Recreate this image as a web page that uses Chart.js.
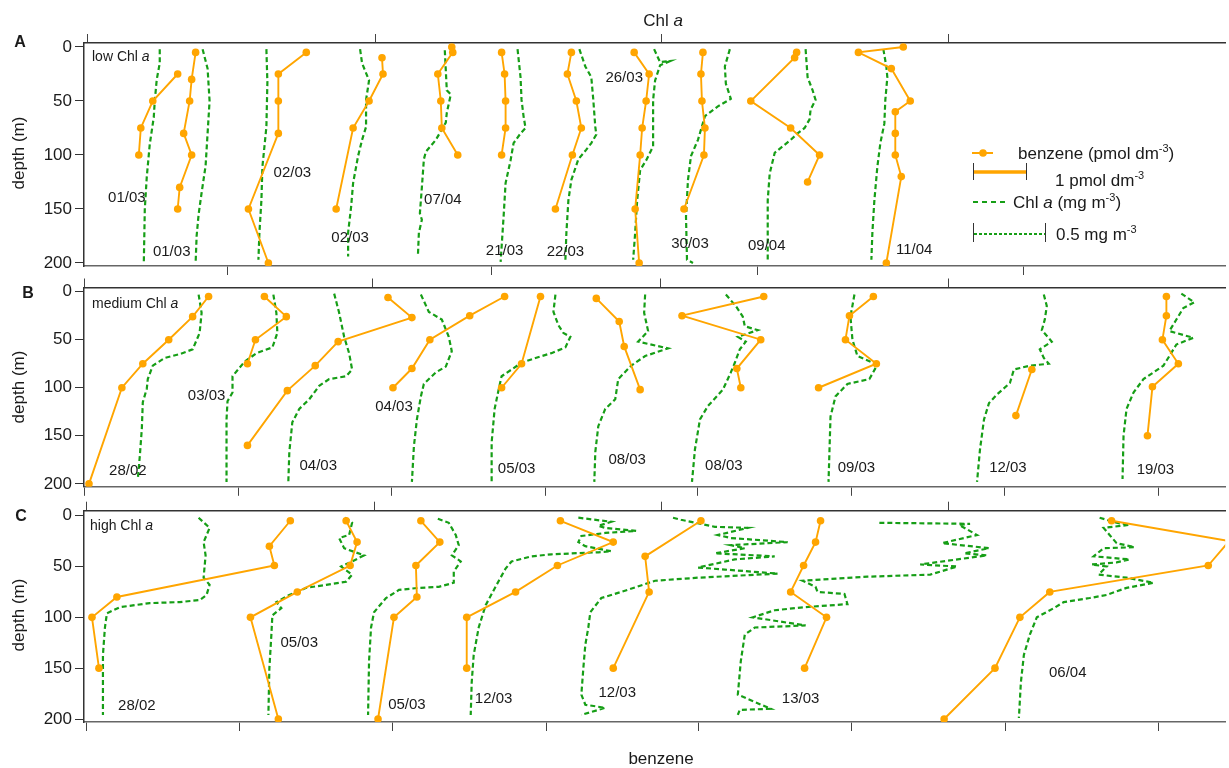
<!DOCTYPE html>
<html><head><meta charset="utf-8">
<script src="https://cdn.jsdelivr.net/npm/chart.js@4"></script>
<style>
body{margin:0;background:#fff;width:1229px;height:768px;overflow:hidden;position:relative;font-family:"Liberation Sans",Arial,sans-serif;color:#1a1a1a;}
canvas{position:absolute;left:0;}
.t{position:absolute;white-space:nowrap;line-height:1;}
.c{transform:translate(-50%,-50%);}
.l{transform:translate(0,-50%);}
.r{transform:translate(-50%,-50%) rotate(-90deg);}
sup{font-size:11px;vertical-align:7px;line-height:0;}
</style></head><body>
<canvas id="cA" width="1229" height="290" style="top:0"></canvas>
<canvas id="cB" width="1229" height="230" style="top:270px"></canvas>
<canvas id="cC" width="1229" height="273" style="top:495px"></canvas>

<div class="t c" style="left:663px;top:20px;font-size:17px">Chl <i>a</i></div>
<div class="t c" style="left:661px;top:758px;font-size:17px">benzene</div>
<div class="t c" style="left:20px;top:42px;font-size:16px;font-weight:bold">A</div>
<div class="t c" style="left:28px;top:293px;font-size:16px;font-weight:bold">B</div>
<div class="t c" style="left:21px;top:516px;font-size:16px;font-weight:bold">C</div>
<div class="t r" style="left:18px;top:153px;font-size:17px">depth (m)</div>
<div class="t r" style="left:18px;top:387px;font-size:17px">depth (m)</div>
<div class="t r" style="left:18px;top:615px;font-size:17px">depth (m)</div>
<div class="t l" style="left:92px;top:56px;font-size:14px">low Chl <i>a</i></div>
<div class="t l" style="left:92px;top:303px;font-size:14px">medium Chl <i>a</i></div>
<div class="t l" style="left:90px;top:525px;font-size:14px">high Chl <i>a</i></div>
<div class="t l" style="left:1018px;top:153px;font-size:17px">benzene (pmol dm<sup>-3</sup>)</div>
<div class="t l" style="left:1055px;top:180px;font-size:17px">1 pmol dm<sup>-3</sup></div>
<div class="t l" style="left:1013px;top:202px;font-size:17px">Chl <i>a</i> (mg m<sup>-3</sup>)</div>
<div class="t l" style="left:1056px;top:234px;font-size:17px">0.5 mg m<sup>-3</sup></div>

<script>
// horizontal unit: offset position (same units for all panels)
const xMin = 84, xMax = 1229;
const depthTicks = [0, 50, 100, 150, 200];

// ---- Panel A (low Chl a) : profiles as [depth, x] ----
const A_benzene = [
 [[25,178],[50,153],[75,141],[100,139]],
 [[5,196],[30,192],[50,190],[80,184],[100,192],[130,180],[150,178]],
 [[5,307],[25,279],[50,279],[80,279],[150,249],[200,269]],
 [[10,383],[25,384],[50,370],[75,354],[150,337]],
 [[0,453],[5,454],[25,439],[50,442],[75,443],[100,459]],
 [[5,503],[25,506],[50,507],[75,507],[100,503]],
 [[5,573],[25,569],[50,578],[75,583],[100,574],[150,557]],
 [[5,636],[25,651],[50,648],[75,644],[100,642],[150,637],[200,641]],
 [[5,705],[25,703],[50,704],[75,707],[100,706],[150,686]],
 [[5,799],[10,797],[50,753],[75,793],[100,822],[125,810]],
 [[0,906],[5,861],[20,894],[50,913],[60,898],[80,898],[100,898],[120,904],[200,889]]
];
const A_chl = [
 [[2,160],[15,160],[30,157],[50,155],[65,154],[90,150],[120,147],[150,145],[200,144]],
 [[2,203],[20,208],[50,210],[80,208],[110,206],[135,202],[155,199],[175,197],[200,196]],
 [[2,267],[33,268],[74,267],[111,263],[142,262],[172,260],[197,259]],
 [[2,361],[15,363],[31,370],[49,367],[74,367],[86,363],[101,359],[126,354],[148,352],[172,349],[194,349]],
 [[3,446],[40,448],[44,452],[61,448],[70,447],[86,437],[97,427],[104,425],[130,423],[154,421],[160,423],[172,420],[194,419]],
 [[2,519],[28,522],[49,523],[64,525],[75,527],[80,522],[89,515],[105,512],[126,507],[157,505],[185,503],[199,502]],
 [[2,581],[18,587],[28,593],[49,595],[74,597],[81,598],[89,593],[95,588],[104,580],[123,573],[142,570],[172,568],[197,567]],
 [[2,656],[14,662],[13,672],[17,662],[31,657],[49,655],[74,655],[92,655],[105,648],[114,642],[142,639],[172,637],[197,635]],
 [[2,732],[18,727],[34,728],[48,733],[55,720],[64,707],[86,700],[101,693],[123,690],[157,688],[197,689],[200,695]],
 [[2,808],[28,810],[40,815],[49,818],[58,813],[67,812],[75,807],[80,800],[86,793],[98,777],[117,772],[142,770],[197,770]],
 [[2,886],[18,889],[28,890],[49,888],[71,887],[89,883],[111,880],[142,877],[172,875],[197,874]]
];
const A_dates = [["01/03",127,140],["01/03",172,190],["02/03",293,117],["02/03",351,177],["07/04",444,142],
 ["21/03",506,189],["22/03",567,190],["26/03",626,29],["30/03",692,182],["09/04",769,184],["11/04",917,188]];
const A_topTicks = [88,376,663,951];
const A_bottomTicks = [228,493,760,1027];

// ---- Panel B (medium Chl a) ----
const B_benzene = [
 [[5,209],[26,193],[50,169],[75,143],[100,122],[200,89]],
 [[5,265],[26,287],[50,256],[75,248]],
 [[6,389],[27,413],[52,339],[77,316],[103,288],[160,248]],
 [[5,506],[25,471],[50,431],[80,413],[100,394]],
 [[5,542],[75,523],[100,503]],
 [[7,598],[31,621],[57,626],[102,642]],
 [[5,766],[25,684],[50,763],[80,739],[100,743]],
 [[5,876],[25,852],[50,848],[75,879],[100,821]],
 [[81,1035],[129,1019]],
 [[5,1170],[25,1170],[50,1166],[75,1182],[99,1156],[150,1151]]
];
const B_chl = [
 [[3,199],[22,202],[43,200],[60,193],[65,180],[69,165],[77,153],[91,148],[101,147],[115,143],[143,142],[171,140],[195,138]],
 [[3,274],[22,277],[43,278],[58,273],[64,257],[73,245],[88,233],[105,233],[114,228],[133,227],[167,227],[198,227]],
 [[2,335],[22,340],[47,345],[64,350],[81,353],[88,347],[91,330],[98,320],[112,310],[122,300],[136,293],[167,290],[198,289]],
 [[3,422],[21,430],[29,443],[47,450],[62,453],[78,447],[84,437],[96,425],[109,422],[133,418],[161,415],[198,413]],
 [[3,557],[21,555],[35,560],[43,565],[47,572],[58,567],[64,553],[69,537],[74,523],[81,513],[88,503],[102,500],[122,496],[157,493],[198,493]],
 [[3,647],[22,646],[41,650],[52,640],[59,670],[67,647],[77,633],[91,620],[112,617],[122,607],[140,600],[167,597],[198,596]],
 [[3,728],[15,738],[26,745],[36,747],[40,760],[47,740],[52,748],[60,742],[74,737],[84,733],[102,725],[119,710],[133,702],[164,697],[198,694]],
 [[3,857],[26,853],[50,855],[67,860],[76,880],[91,872],[96,850],[109,838],[130,833],[164,832],[198,831]],
 [[3,1047],[15,1050],[29,1048],[40,1045],[52,1055],[60,1043],[69,1047],[75,1052],[77,1033],[81,1017],[95,1013],[107,1000],[116,992],[133,987],[164,983],[198,980]],
 [[2,1185],[11,1198],[17,1187],[29,1180],[41,1173],[48,1197],[55,1180],[67,1173],[77,1167],[91,1147],[105,1137],[122,1130],[150,1127],[195,1126]]
];
const B_dates = [["28/02",128,186],["03/03",207,108],["04/03",319,181],["04/03",395,120],["05/03",518,184],
 ["08/03",629,175],["08/03",726,181],["09/03",859,183],["12/03",1011,183],["19/03",1159,185]];
const B_topTicks = [85,373,662,951];
const B_bottomTicks = [85,239,393,547,700,854,1008,1162];

// ---- Panel C (high Chl a) ----
const C_benzene = [
 [[5,291],[30,270],[49,275],[80,117],[100,92],[150,99]],
 [[5,347],[26,358],[49,351],[75,298],[100,251],[200,279]],
 [[5,422],[26,441],[49,417],[80,418],[100,395],[200,379]],
 [[5,562],[26,615],[49,559],[75,517],[100,468],[150,468]],
 [[5,703],[40,647],[75,651],[150,615]],
 [[5,823],[26,818],[49,806],[75,793],[100,829],[150,807]],
 [[5,1115],[25,1233],[49,1212],[75,1053],[100,1023],[150,998],[200,947]]
];
const C_chl = [
 [[2,199],[12,210],[26,204],[39,206],[61,204],[68,210],[78,207],[83,200],[85,180],[86,150],[90,120],[96,107],[110,105],[137,103],[164,103],[196,103]],
 [[2,346],[7,353],[19,350],[22,340],[32,345],[39,365],[45,353],[50,342],[58,353],[65,347],[68,327],[71,307],[78,290],[85,277],[91,282],[98,273],[117,272],[150,270],[196,269]],
 [[3,439],[7,450],[19,457],[29,460],[39,453],[45,462],[55,455],[66,455],[70,440],[71,420],[73,400],[75,397],[81,387],[95,375],[110,372],[143,370],[196,369]],
 [[2,580],[6,613],[10,600],[12,607],[15,638],[17,607],[20,583],[26,580],[30,587],[35,613],[36,600],[38,553],[40,533],[45,513],[52,507],[68,498],[88,487],[110,480],[137,475],[164,473],[196,472]],
 [[2,675],[4,683],[11,717],[12,750],[19,720],[22,733],[26,790],[29,733],[32,747],[37,717],[40,777],[43,737],[51,700],[53,727],[57,780],[61,700],[64,657],[75,623],[81,603],[95,592],[110,590],[127,587],[150,585],[176,583],[186,587],[189,607],[196,583]],
 [[7,882],[8,973],[9,962],[19,980],[27,945],[32,992],[37,967],[39,990],[48,923],[50,960],[58,933],[60,870],[64,805],[70,818],[75,820],[77,847],[87,850],[90,807],[93,777],[100,755],[108,808],[110,757],[117,747],[143,743],[176,740],[190,773],[191,742],[196,740]],
 [[2,1103],[7,1120],[9,1133],[12,1107],[19,1113],[27,1120],[31,1138],[32,1107],[40,1097],[43,1133],[46,1120],[48,1095],[50,1110],[58,1102],[61,1130],[66,1157],[71,1130],[78,1110],[81,1093],[85,1067],[91,1057],[100,1040],[117,1033],[137,1027],[164,1024],[199,1022]]
];
const C_dates = [["28/02",137,187],["05/03",300,125],["05/03",408,186],["12/03",495,180],["12/03",619,174],["13/03",803,180],["06/04",1071,155]];
const C_topTicks = [87,375,663,951];
const C_bottomTicks = [87,240,394,548,701,854,1009,1162];

const ORANGE = '#FFA500', GREEN = '#169e16';
const FONT = '"Liberation Sans", Arial, sans-serif';

function mkPanel(id, benz, chl, dates, yMin, yMax, topTicks, botTicks, topH, botH, withLegend) {
  const datasets = [];
  benz.forEach(p => datasets.push({
    data: p.map(([d, x]) => ({x: x, y: d})), showLine: true,
    borderColor: ORANGE, backgroundColor: ORANGE, borderWidth: 1.9,
    pointRadius: 3.8, pointBorderWidth: 0, pointHoverRadius: 3.8
  }));
  chl.forEach(p => datasets.push({
    data: p.map(([d, x]) => ({x: x, y: d})), showLine: true,
    borderColor: GREEN, borderWidth: 2.2, borderDash: [5, 3], pointRadius: 0
  }));
  const datePlugin = {
    id: 'dates' + id,
    afterDatasetsDraw(chart) {
      const ctx = chart.ctx, xs = chart.scales.x, ys = chart.scales.y;
      ctx.save();
      ctx.font = '15px ' + FONT; ctx.fillStyle = '#1a1a1a';
      ctx.textAlign = 'center'; ctx.textBaseline = 'middle';
      dates.forEach(([t, x, d]) => ctx.fillText(t, xs.getPixelForValue(x), ys.getPixelForValue(d)));
      ctx.restore();
    }
  };
  const legendPlugin = {
    id: 'leg' + id,
    afterDraw(chart) {
      if (!withLegend) return;
      const ctx = chart.ctx;
      ctx.save();
      ctx.lineCap = 'butt';
      ctx.strokeStyle = ORANGE; ctx.lineWidth = 2;
      ctx.beginPath(); ctx.moveTo(972, 153); ctx.lineTo(993, 153); ctx.stroke();
      ctx.fillStyle = ORANGE; ctx.beginPath(); ctx.arc(983, 153, 3.8, 0, Math.PI * 2); ctx.fill();
      ctx.lineWidth = 3.5; ctx.beginPath(); ctx.moveTo(973, 172); ctx.lineTo(1026, 172); ctx.stroke();
      ctx.strokeStyle = '#333'; ctx.lineWidth = 1;
      [[973, 163, 180], [1026, 163, 180], [973, 223, 242], [1045, 223, 242]].forEach(([x, a, b]) => {
        ctx.beginPath(); ctx.moveTo(x + 0.5, a); ctx.lineTo(x + 0.5, b); ctx.stroke();
      });
      ctx.strokeStyle = GREEN; ctx.lineWidth = 2;
      ctx.setLineDash([5, 4]);
      ctx.beginPath(); ctx.moveTo(973, 202); ctx.lineTo(1005, 202); ctx.stroke();
      ctx.setLineDash([3, 2]);
      ctx.beginPath(); ctx.moveTo(974, 234); ctx.lineTo(1045, 234); ctx.stroke();
      ctx.restore();
    }
  };
  const tickAx = (ticks, pos, h) => ({
    type: 'linear', position: pos, min: xMin, max: xMax,
    afterBuildTicks: s => { s.ticks = ticks.map(v => ({value: v})); },
    afterFit: s => { s.height = h; },
    ticks: {display: false},
    grid: {drawOnChartArea: false, tickLength: 9, color: '#444', lineWidth: 1},
    border: {color: pos === 'top' ? '#333' : '#666', width: 1.5}
  });
  new Chart(document.getElementById(id), {
    type: 'scatter',
    data: {datasets},
    options: {
      responsive: false, animation: false, events: [],
      layout: {padding: 0},
      plugins: {legend: {display: false}, tooltip: {enabled: false}},
      scales: {
        x: tickAx(botTicks, 'bottom', botH),
        x2: tickAx(topTicks, 'top', topH),
        y: {
          type: 'linear', reverse: true, min: yMin, max: yMax,
          afterBuildTicks: s => { s.ticks = depthTicks.map(v => ({value: v})); },
          afterFit: s => { s.width = 84; },
          ticks: {font: {size: 17, family: FONT}, color: '#1a1a1a', padding: 3},
          grid: {drawOnChartArea: false, tickLength: 9, color: '#333'},
          border: {color: '#333', width: 1.5}
        }
      }
    },
    plugins: [datePlugin, legendPlugin]
  });
}

mkPanel('cA', A_benzene, A_chl, A_dates, -3.7, 202.8, A_topTicks, A_bottomTicks, 43, 24, true);
mkPanel('cB', B_benzene, B_chl, B_dates, -4.35, 203.1, B_topTicks, B_bottomTicks, 17.5, 12, false);
mkPanel('cC', C_benzene, C_chl, C_dates, -4.9, 202.95, C_topTicks, C_bottomTicks, 15.7, 46, false);
</script>
</body></html>
